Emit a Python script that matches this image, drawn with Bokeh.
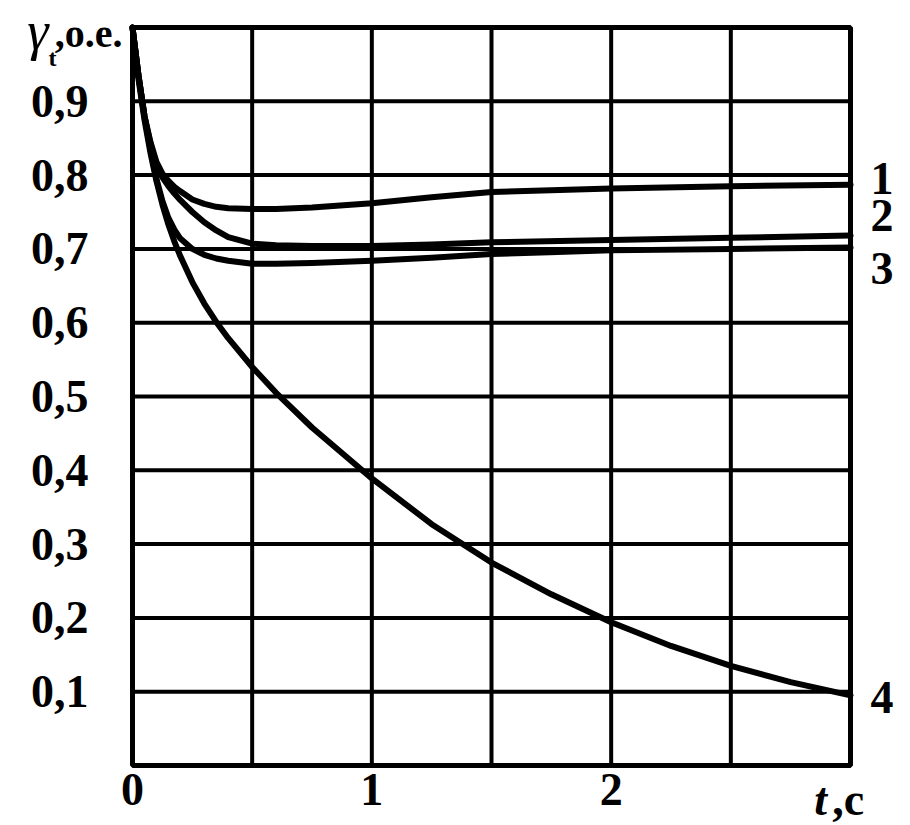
from bokeh.plotting import figure
from bokeh.models import FixedTicker, Range1d, LinearAxis
from bokeh.embed import file_html
from bokeh.resources import INLINE

# time, s (sample points) for curves 1-3
t = [0, 0.025, 0.05, 0.075, 0.1, 0.125, 0.15, 0.175, 0.2, 0.25, 0.3, 0.35, 0.4, 0.5, 0.6, 0.75, 1.0, 1.25, 1.5, 2.0, 2.5, 3.0]
g1 = [1.0, 0.935, 0.88, 0.845, 0.818, 0.802, 0.792, 0.784, 0.778, 0.767, 0.761, 0.757, 0.755, 0.754, 0.754, 0.756, 0.762, 0.770, 0.777, 0.782, 0.785, 0.787]
g2 = [1.0, 0.935, 0.88, 0.842, 0.812, 0.797, 0.785, 0.775, 0.766, 0.750, 0.736, 0.725, 0.716, 0.707, 0.705, 0.704, 0.704, 0.706, 0.709, 0.712, 0.715, 0.718]
g3 = [1.0, 0.935, 0.88, 0.835, 0.795, 0.765, 0.742, 0.726, 0.714, 0.700, 0.692, 0.687, 0.684, 0.680, 0.680, 0.681, 0.684, 0.688, 0.693, 0.698, 0.700, 0.702]

# curve 4
t4 = [0, 0.025, 0.05, 0.075, 0.1, 0.125, 0.15, 0.175, 0.2, 0.25, 0.3, 0.35, 0.4, 0.5, 0.6, 0.75, 1.0, 1.25, 1.5, 1.75, 2.0, 2.25, 2.5, 2.75, 3.0]
g4 = [1.0, 0.93, 0.875, 0.83, 0.792, 0.76, 0.733, 0.71, 0.69, 0.655, 0.626, 0.601, 0.579, 0.540, 0.505, 0.458, 0.389, 0.327, 0.275, 0.232, 0.194, 0.162, 0.135, 0.113, 0.095]

curve_names = ["1", "2", "3", "4"]
curve_label_y = [0.795, 0.745, 0.673, 0.092]

x_ticks = [0, 1, 2]
x_tick_labels = ["0", "1", "2"]
y_ticks = [0.1, 0.2, 0.3, 0.4, 0.5, 0.6, 0.7, 0.8, 0.9]
y_tick_labels = ["0,1", "0,2", "0,3", "0,4", "0,5", "0,6", "0,7", "0,8", "0,9"]

# chart box and grid
x_bounds = [0, 3]
y_bounds = [0, 1]
x_grid = [0.5, 1.0, 1.5, 2.0, 2.5]
y_grid = [0.1, 0.2, 0.3, 0.4, 0.5, 0.6, 0.7, 0.8, 0.9]

# axis titles, split by style: (text, position on the axis, font size, style, standoff)
x_title_parts = [("t", 2.875, "46px", "bold italic", 2), (",c", 2.99, "46px", "bold", 2)]
y_title_parts = [("γ", 0.9946, "54px", "italic", 78),
                 ("t", 0.9593, "24px", "bold", 70),
                 (",o.e.", 0.9919, "40px", "bold", 4)]

FONT = "Liberation Serif"
FS = "46px"

# the plotting frame fills the whole canvas; the chart box sits inside it
W, H = 910, 825
BOX_L, BOX_R, BOX_T, BOX_B = 132, 850, 27, 765
sx = (BOX_R - BOX_L) / (x_bounds[1] - x_bounds[0])
sy = (BOX_B - BOX_T) / (y_bounds[1] - y_bounds[0])
xr = Range1d(x_bounds[0] - BOX_L / sx, x_bounds[1] + (W - BOX_R) / sx)
yr = Range1d(y_bounds[0] - (H - BOX_B) / sy, y_bounds[1] + BOX_T / sy)

p = figure(width=W, height=H, x_range=xr, y_range=yr,
           output_backend="svg", toolbar_location=None,
           x_axis_location=None, y_axis_location=None,
           min_border_left=0, min_border_right=0, min_border_top=0, min_border_bottom=0)
p.background_fill_color = "white"
p.border_fill_color = "white"
p.outline_line_color = None
p.xgrid.visible = False
p.ygrid.visible = False

# grid lines inside the chart box
p.segment(x0=x_grid, x1=x_grid, y0=[y_bounds[0]] * len(x_grid), y1=[y_bounds[1]] * len(x_grid),
          line_color="black", line_width=4)
p.segment(x0=[x_bounds[0]] * len(y_grid), x1=[x_bounds[1]] * len(y_grid), y0=y_grid, y1=y_grid,
          line_color="black", line_width=4)
# box outline
p.quad(left=[x_bounds[0]], right=[x_bounds[1]], bottom=[y_bounds[0]], top=[y_bounds[1]],
       fill_color=None, line_color="black", line_width=5)

for tx, gy in ((t, g1), (t, g2), (t, g3), (t4, g4)):
    p.line(tx, gy, line_color="black", line_width=6, line_join="round", line_cap="round")


def make_axis(ticks, labels, place, loc, size=FS, fstyle="bold", standoff=0):
    ax = LinearAxis(fixed_location=loc, ticker=FixedTicker(ticks=ticks),
                    major_label_overrides={k: v for k, v in zip(ticks, labels)})
    ax.axis_line_color = None
    ax.major_tick_line_color = None
    ax.minor_tick_line_color = None
    ax.major_label_text_font = FONT
    ax.major_label_text_font_size = size
    ax.major_label_text_font_style = fstyle
    ax.major_label_text_color = "black"
    ax.major_label_standoff = standoff
    p.add_layout(ax, place)
    return ax


make_axis(x_ticks, x_tick_labels, "below", y_bounds[0], standoff=2)
make_axis(y_ticks, y_tick_labels, "left", x_bounds[0], standoff=38)
make_axis(curve_label_y, curve_names, "right", x_bounds[1], standoff=14)
for txt, pos, size, fstyle, so in x_title_parts:
    make_axis([pos], [txt], "below", y_bounds[0], size, fstyle, so)
for txt, pos, size, fstyle, so in y_title_parts:
    make_axis([pos], [txt], "left", x_bounds[0], size, fstyle, so)

open("out.html", "w").write(file_html(p, INLINE))
